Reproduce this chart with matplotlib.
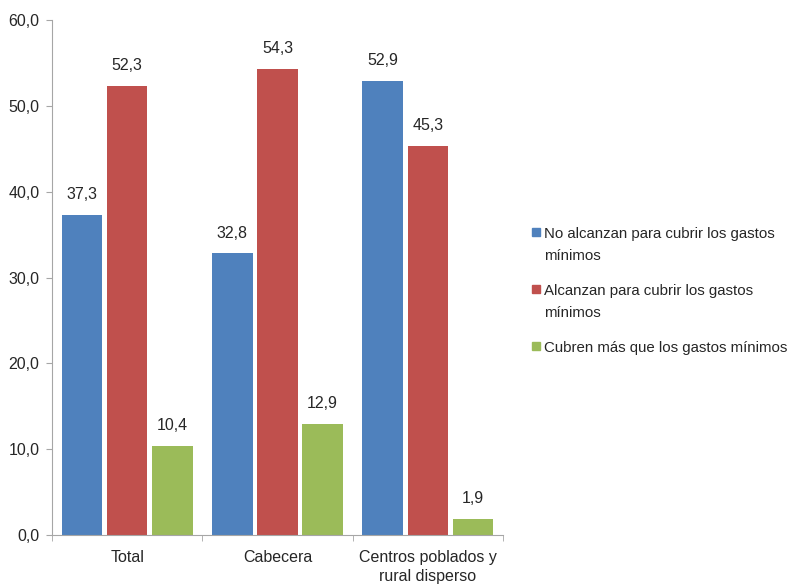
import matplotlib
matplotlib.use("Agg")
import matplotlib.pyplot as plt
from matplotlib.patches import Rectangle
import numpy as np

categories = ["Total", "Cabecera", "Centros poblados y\nrural disperso"]
series_names = ["No alcanzan para cubrir los gastos\nmínimos",
                "Alcanzan para cubrir los gastos\nmínimos",
                "Cubren más que los gastos mínimos"]
no_alcanzan = [37.3, 32.8, 52.9]
alcanzan = [52.3, 54.3, 45.3]
cubren_mas = [10.4, 12.9, 1.9]
colors = ["#4F81BD", "#C0504D", "#9BBB59"]
yticks = [0, 10, 20, 30, 40, 50, 60]

plt.rcParams['font.family'] = ['Liberation Sans', 'DejaVu Sans']
txt = "#262626"
fs = 11.5

W, H = 793, 587
fig = plt.figure(figsize=(W / 100, H / 100), dpi=100)
ax = fig.add_axes([52 / W, 52 / H, 451 / W, 515 / H])

x = np.arange(len(categories))
w = 0.27
offs = [-0.30, 0.0, 0.30]
for vals, name, c, o in zip([no_alcanzan, alcanzan, cubren_mas], series_names, colors, offs):
    bars = ax.bar(x + o, vals, width=w, color=c, label=name)
    for b, v in zip(bars, vals):
        ax.text(b.get_x() + b.get_width() / 2, v + 1.86, f"{v:.1f}".replace(".", ","),
                ha="center", va="baseline", fontsize=fs, color=txt)

ax.set_xlim(-0.5, len(categories) - 0.5)
ax.set_ylim(0, 60)
ax.set_yticks(yticks)
ax.set_yticklabels([f"{t:.1f}".replace(".", ",") for t in yticks], fontsize=fs, color=txt)
ax.set_xticks(x)
ax.set_xticklabels(categories, fontsize=fs, color=txt, linespacing=1.35)
ax.tick_params(axis="x", length=0, pad=11)
ax.set_xticks(np.arange(len(categories) + 1) - 0.5, minor=True)
ax.tick_params(axis="x", which="minor", length=4, color="#A6A6A6", direction="out")
ax.tick_params(axis="y", length=4, color="#A6A6A6", direction="out", pad=5)
for s in ["top", "right"]:
    ax.spines[s].set_visible(False)
for s in ["left", "bottom"]:
    ax.spines[s].set_color("#A6A6A6")

# legend (manual, handle beside the first line like the reference)
first_baselines = [238, 295, 352]
line_step = 22
sq = 8
for name, c, yb in zip(series_names, colors, first_baselines):
    fig.patches.append(Rectangle((532 / W, 1 - (yb - 2) / H), sq / W, sq / H,
                                 transform=fig.transFigure, color=c))
    for i, line in enumerate(name.split("\n")):
        fig.text(544 / W, 1 - (yb + i * line_step) / H, line, fontsize=10.8,
                 color=txt, ha="left", va="baseline")

fig.savefig("out.png", dpi=100)
